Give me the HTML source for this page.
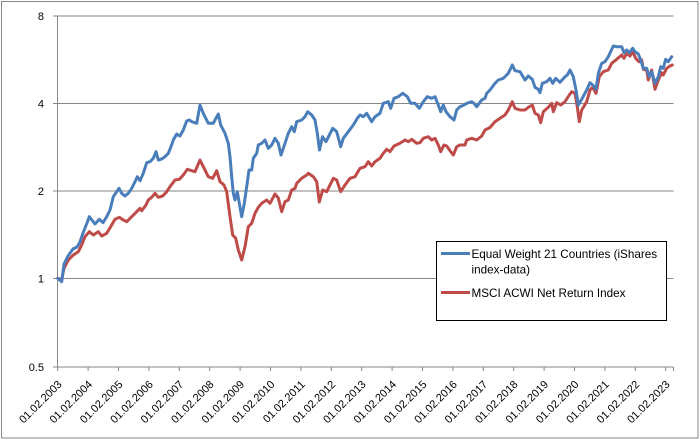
<!DOCTYPE html>
<html><head><meta charset="utf-8"><style>
html,body{margin:0;padding:0;background:#fff;}
svg{display:block;font-family:"Liberation Sans",sans-serif;}
</style></head><body>
<svg width="700" height="440" viewBox="0 0 700 440" xmlns="http://www.w3.org/2000/svg">
<rect x="1.5" y="1.5" width="696.5" height="436.5" fill="#fff" stroke="#868686" stroke-width="1"/>
<g stroke="#868686" stroke-width="1">
<line x1="57.5" y1="16" x2="673.5" y2="16"/>
<line x1="57.5" y1="103.5" x2="673.5" y2="103.5"/>
<line x1="57.5" y1="191" x2="673.5" y2="191"/>
<line x1="57.5" y1="278.5" x2="673.5" y2="278.5"/>
<line x1="57.5" y1="367" x2="673.5" y2="367"/>
<line x1="57.5" y1="16" x2="57.5" y2="367"/>
<line x1="53" y1="16" x2="57.5" y2="16"/>
<line x1="53" y1="103.5" x2="57.5" y2="103.5"/>
<line x1="53" y1="191" x2="57.5" y2="191"/>
<line x1="53" y1="278.5" x2="57.5" y2="278.5"/>
<line x1="53" y1="367" x2="57.5" y2="367"/>
</g>
<g stroke="#868686" stroke-width="1" id="xt">
<line x1="57.7" y1="367" x2="57.7" y2="371"/>
<line x1="88.1" y1="367" x2="88.1" y2="371"/>
<line x1="118.5" y1="367" x2="118.5" y2="371"/>
<line x1="148.9" y1="367" x2="148.9" y2="371"/>
<line x1="179.3" y1="367" x2="179.3" y2="371"/>
<line x1="209.7" y1="367" x2="209.7" y2="371"/>
<line x1="240.1" y1="367" x2="240.1" y2="371"/>
<line x1="270.5" y1="367" x2="270.5" y2="371"/>
<line x1="300.9" y1="367" x2="300.9" y2="371"/>
<line x1="331.3" y1="367" x2="331.3" y2="371"/>
<line x1="361.7" y1="367" x2="361.7" y2="371"/>
<line x1="392.1" y1="367" x2="392.1" y2="371"/>
<line x1="422.5" y1="367" x2="422.5" y2="371"/>
<line x1="452.9" y1="367" x2="452.9" y2="371"/>
<line x1="483.3" y1="367" x2="483.3" y2="371"/>
<line x1="513.7" y1="367" x2="513.7" y2="371"/>
<line x1="544.1" y1="367" x2="544.1" y2="371"/>
<line x1="574.5" y1="367" x2="574.5" y2="371"/>
<line x1="604.9" y1="367" x2="604.9" y2="371"/>
<line x1="635.3" y1="367" x2="635.3" y2="371"/>
<line x1="665.7" y1="367" x2="665.7" y2="371"/>
<line x1="673.5" y1="367" x2="673.5" y2="371"/>
</g>
<g font-size="11" fill="#000" text-anchor="end">
<text x="44" y="20">8</text>
<text x="44" y="107.5">4</text>
<text x="44" y="195">2</text>
<text x="44" y="282.5">1</text>
<text x="44" y="371">0.5</text>
</g>
<g font-size="11" fill="#000" text-anchor="end">
<text transform="translate(62.5,385) rotate(-45)">01.02.2003</text>
<text transform="translate(92.9,385) rotate(-45)">01.02.2004</text>
<text transform="translate(123.3,385) rotate(-45)">01.02.2005</text>
<text transform="translate(153.7,385) rotate(-45)">01.02.2006</text>
<text transform="translate(184.1,385) rotate(-45)">01.02.2007</text>
<text transform="translate(214.5,385) rotate(-45)">01.02.2008</text>
<text transform="translate(244.9,385) rotate(-45)">01.02.2009</text>
<text transform="translate(275.3,385) rotate(-45)">01.02.2010</text>
<text transform="translate(305.7,385) rotate(-45)">01.02.2011</text>
<text transform="translate(336.1,385) rotate(-45)">01.02.2012</text>
<text transform="translate(366.5,385) rotate(-45)">01.02.2013</text>
<text transform="translate(396.9,385) rotate(-45)">01.02.2014</text>
<text transform="translate(427.3,385) rotate(-45)">01.02.2015</text>
<text transform="translate(457.7,385) rotate(-45)">01.02.2016</text>
<text transform="translate(488.1,385) rotate(-45)">01.02.2017</text>
<text transform="translate(518.5,385) rotate(-45)">01.02.2018</text>
<text transform="translate(548.9,385) rotate(-45)">01.02.2019</text>
<text transform="translate(579.3,385) rotate(-45)">01.02.2020</text>
<text transform="translate(609.7,385) rotate(-45)">01.02.2021</text>
<text transform="translate(640.1,385) rotate(-45)">01.02.2022</text>
<text transform="translate(670.5,385) rotate(-45)">01.02.2023</text>
</g>
<polyline fill="none" stroke="#be4b48" stroke-width="3" stroke-linejoin="round" stroke-linecap="round" points="57.7,278.3 61.7,279.5 64,268.3 68.3,260 73.3,255 78.3,251.7 81.7,245 85,236.7 89.3,231.7 93.3,235 98.3,231.7 101.7,236 106.7,233.3 110.7,226.7 115,219.3 119.3,217.3 123.3,220 126.7,221.7 131.7,216.7 136.7,211.7 140,208.3 141.7,210.7 146,205 148.3,200 151.7,197.3 155,193.3 158.3,197.3 162.7,196 166.7,191.7 170,186.7 175,180 179.3,179.3 183.3,175 187.3,169.3 191.7,170.7 195,171.7 200,160 203.3,166.7 208.3,176.7 212.7,178.3 216.7,170.7 220,181.7 224,185 226.7,191.7 230,216.7 232.7,235 235.7,238.3 238.3,250 241.7,260 245,246.7 248.3,226.7 251.7,223.3 255,213.3 258.3,207.3 261.7,203.3 266.7,200 270,203.3 275,194 278.3,198 281.7,211.7 285,201.7 288.3,200 291.7,190 295,188.3 296.7,183.3 301.7,178.3 306.7,175 308.3,173.3 313.3,176.7 316.7,181.7 319.3,202 322.7,190 326.7,191.7 333.3,178.3 336.7,180 340.7,191.7 345,185 350,178.3 355,176.7 360,168.3 365,166.7 368.3,161.7 371.7,166 375,161.7 380,158.3 383.3,153.3 386.7,149.3 390,151.7 394,146 400,143.3 405,140 408.3,141.7 411.7,139.3 416.7,143.3 420,142.7 423.3,138.3 428.3,136.7 431.7,140 435,138.3 438.3,145 440.7,151.7 444,145 446.7,146 450.7,151.7 453.3,155 456.7,146.7 460,145 465,145 466.7,140 471.7,138.3 476.7,140 481.7,136 485,130 490,127.5 495,121.7 500,118.3 505,115 508.3,110 512.3,101.7 515,108.3 520,110 525,110 528.3,107.3 532.3,105 535,113.3 538.3,115 540.7,122.7 543.3,111.7 548.3,107.3 551.7,103.3 553.3,111.7 556.7,102.7 560.7,105 565,101.7 569.3,95 571.7,91.7 575,93.3 577.3,106.7 579.3,121.7 581.7,110 586.7,101.7 590,90 592.7,87.3 596,93.3 599.3,76.7 603.3,71.7 608.3,70 611.7,63.3 616.7,59.3 621.7,55 624,58.3 626.7,53.3 630,56 632.7,51.7 635.7,58.3 639,61.7 641.7,60 643.3,69.3 646.7,70 648.3,80 651.7,70 655,89.3 658.3,80 661.7,72.7 663.3,75 666.7,68.3 670,66 672.3,65"/>
<polyline fill="none" stroke="#4a7ebb" stroke-width="3" stroke-linejoin="round" stroke-linecap="round" points="57.7,278.3 61.7,281.7 64,264 68,256 73,249 77,247 80,242 83,233 87,223 89.3,216.7 95,224 99.3,219.3 103,222.7 106.7,216.7 110,210 113.3,196.7 116.7,191.7 119,188.3 121.7,193.3 125,196 128.3,193.3 131.7,188.3 135,181.7 137.3,176.7 140,180.7 143.3,173.3 146.7,162.7 150,161.7 153.3,158.3 156,151.7 158.3,160 161.7,159 165,156.7 168.3,153.3 171,146.7 173.3,140 176.7,134 180,136 183.3,130 186.7,121 189.3,120 191.7,121.7 196.7,123.3 200,105 203.3,113.3 208.3,123.3 213.3,123.3 218.3,114 220.7,125 225,133.3 228.3,143.3 230,156.7 231.7,176.7 233.3,193.3 235,200 237.3,191.7 239.3,203.3 241.7,216.7 244.3,203.3 246.7,186.7 249,170 251.7,170 253.3,158.3 256.7,153.3 258.3,145 261.7,143.3 265,140 268.3,148.3 271.7,145 275,138.3 278.3,143.3 281,155 285,143.3 288.3,133.3 291.7,126.7 294.3,131.7 296.7,121.7 301.7,120 305,116.7 307.7,111.7 311.7,115 315,120 317.3,133.3 319.5,150 322.5,136.7 326,141.7 332.7,128.3 336.7,131.7 340.7,146.7 343.3,138.3 348.3,131.7 353.3,125 357.3,118.3 360,115 363.3,116.7 366.7,113.3 371.7,121.7 375,116.7 380,113.3 383.3,103.3 388.3,101.7 390.7,108.3 394,98.3 398.3,96.7 402.7,93.3 407.3,96.7 410.7,103.3 415,103.3 419.3,108.3 423.3,101.7 427.3,96.7 431.7,98.3 435,96.7 438.3,105 440.7,111.7 443.3,105 446,111.7 450,116.7 454,120 456.7,110 460,106.7 464,105 466.7,103.3 471.7,101.7 474,103.3 476.7,106.7 481.7,100 485,98.3 486.7,93.3 490,90 495,83.3 498.3,80 503.3,78.3 508.3,73.3 512.3,65 515,70.7 520,71.7 525,80 528.3,76 532.3,79.3 535,87.3 538.3,89.3 540,92.7 542.3,83.3 546.7,81.7 550,78.3 552.7,83.3 555.7,78.3 560,82.3 565,76.7 567.3,75 570,70 573.3,76.7 576,90 578.3,105 581.7,99.3 586.7,90 590,82.7 592.7,85 596,89.3 598.3,73.3 601.7,63.3 605,61.7 608.3,56.7 613.3,46 616.7,46.7 621.7,46.7 624,52.7 626.7,50 629.3,52.7 632.7,48.3 635,51.7 638.3,54 640.7,60 643.3,68.3 646.7,68.3 649.3,76.7 651.7,71.7 655,83.3 658.3,76.7 660.7,66.7 663.3,68.3 665.7,59.3 668.3,61.7 671.7,56.7"/>
<rect x="436.5" y="241.5" width="230" height="79" fill="#fff" stroke="#000" stroke-width="1"/>
<line x1="441" y1="253.5" x2="470" y2="253.5" stroke="#4a7ebb" stroke-width="3"/>
<line x1="441" y1="292.5" x2="470" y2="292.5" stroke="#be4b48" stroke-width="3"/>
<g font-size="11.7" fill="#000">
<text x="471.5" y="258">Equal Weight 21 Countries (iShares</text>
<text x="471.5" y="273.5">index-data)</text>
<text x="471.5" y="297">MSCI ACWI Net Return Index</text>
</g>
</svg>
</body></html>
